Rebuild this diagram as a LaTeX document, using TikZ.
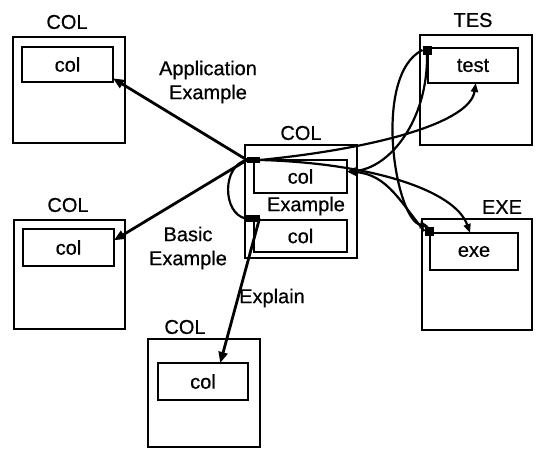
\documentclass[tikz,border=0pt]{standalone}
\usepackage{fontspec}
\setmainfont{Liberation Sans}
\newfontfamily\labelfont{Liberation Sans}[FakeBold=0.6]
\usetikzlibrary{arrows.meta}
\begin{document}
\begin{tikzpicture}[x=1pt,y=-1pt,
  box/.style={draw, line width=2pt, inner sep=0pt, outer sep=0pt},
  txt/.style={font=\labelfont\fontsize{20}{24}\selectfont, inner sep=0pt},
  port/.style={fill=black, inner sep=0pt, outer sep=0pt},
  link/.style={line width=2.8pt, -{Triangle[length=11pt,width=9pt]}},
  xref/.style={line width=2.2pt, -{Triangle[length=9pt,width=7pt]}},
  plain/.style={line width=2.2pt}]
\useasboundingbox (0,0) rectangle (542,450);

% upper left COL
\node[box, minimum width=112pt, minimum height=106pt] (oA) at (69,90) {};
\node[box, txt, minimum width=91pt, minimum height=35pt] (iA) at (67.5,64.5) {col};
\node[txt] (tA) at (67,22) {COL};

% middle left COL
\node[box, minimum width=111pt, minimum height=109pt] (oB) at (69.5,274.5) {};
\node[box, txt, minimum width=91pt, minimum height=37pt] (iB) at (68.5,247.5) {col};
\node[txt] (tB) at (68,205) {COL};

% bottom COL
\node[box, minimum width=112pt, minimum height=108pt] (oC) at (204,393) {};
\node[box, txt, minimum width=90pt, minimum height=37pt] (iC) at (203,381.5) {col};
\node[txt] (tC) at (185,327) {COL};

% central COL
\node[box, minimum width=112pt, minimum height=113pt] (oM) at (301,201.5) {};
\node[box, txt, minimum width=93pt, minimum height=33pt] (iM1) at (300.5,176.5) {col};
\node[box, txt, minimum width=93pt, minimum height=32pt] (iM2) at (300.5,236) {col};
\node[txt] (eM) at (306,206) {Example};
\node[txt] (tM) at (301,133) {COL};

% TES
\node[box, minimum width=112pt, minimum height=110pt] (oT) at (476,90) {};
\node[box, txt, minimum width=90pt, minimum height=35pt] (iT) at (473,65.5) {test};
\node[txt] (tT) at (473,20) {TES};

% EXE
\node[box, minimum width=110pt, minimum height=111pt] (oE) at (477,274.5) {};
\node[box, txt, minimum width=88pt, minimum height=37pt] (iE) at (474,251.5) {exe};
\node[txt] (tE) at (502,207) {EXE};

% ports
\node[port, minimum width=13pt, minimum height=6pt] (pM) at (253.5,160) {};
\node[port, minimum width=14pt, minimum height=7pt] (pM2) at (252.5,218.5) {};
\node[port, minimum width=9pt, minimum height=9pt] (pT) at (427,50) {};
\node[port, minimum width=9pt, minimum height=9pt] (pE) at (429,231) {};

% link labels
\node[txt, align=center] (lApp) at (208,82) {Application\\Example};
\node[txt, align=center] (lBas) at (188,248) {Basic\\Example};
\node[txt] (lExp) at (272,298) {Explain};

% links
\draw[link] (pM.west) -- (iA.-17);
\draw[link] (pM.west) -- (iB.9);
\draw[link] (pM2.east) -- (iC.47);
\draw[plain] (pM.west) .. controls (222,165) and (222,213) .. (pM2.west);

% cross references
\draw[xref] (pM.east) .. controls (380,148) and (470,122) .. (iT.-81);
\draw[xref] (pM.east) .. controls (370,163) and (455,190) .. (iE.102);
\draw[xref] (pT.south) .. controls (428,120) and (390,168) .. (iM1.6);
\draw[xref] (pT.west) .. controls (372,75) and (395,220) .. (pE.north);
\draw[xref] (pE.west) .. controls (402,205) and (388,174) .. (iM1.6);
\end{tikzpicture}
\end{document}
